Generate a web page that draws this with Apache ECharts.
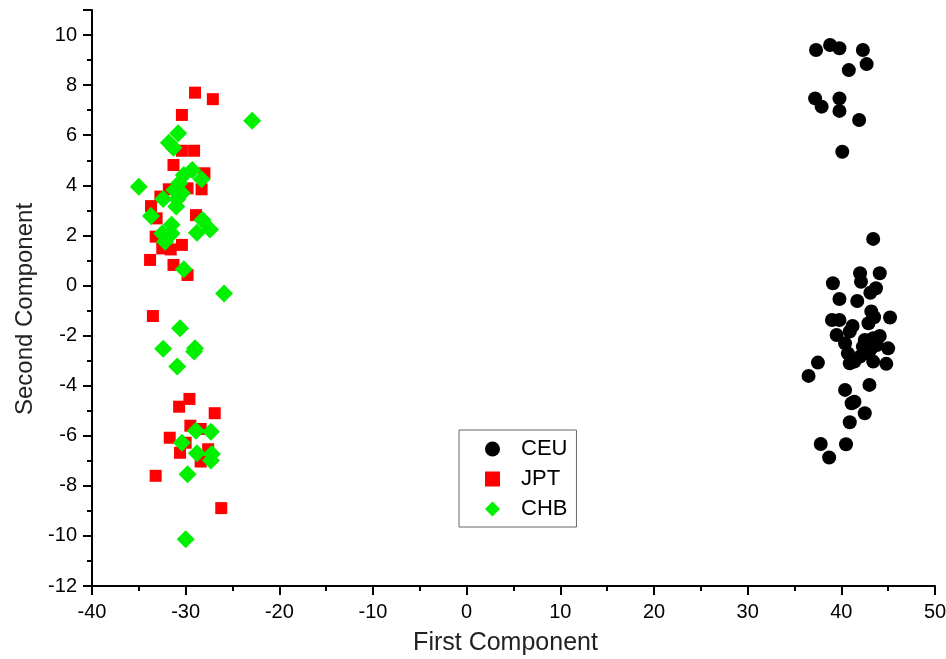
<!DOCTYPE html>
<html>
<head>
<meta charset="utf-8">
<script src="https://cdn.jsdelivr.net/npm/echarts@6/dist/echarts.min.js"></script>
<style>
  html, body { margin: 0; padding: 0; background: #fff; }
  #main { width: 946px; height: 659px; }
</style>
</head>
<body>
<div id="main"></div>
<script>
// points, [first, second]
const ceu = [
  [37.3, 9.40], [38.8, 9.60], [39.8, 9.47], [42.3, 9.40], [42.7, 8.84], [40.8, 8.60],
  [37.2, 7.47], [37.9, 7.14], [39.8, 7.47], [39.8, 6.97], [41.9, 6.61], [40.1, 5.34],
  [43.4, 1.86], [42.0, 0.49], [42.1, 0.15], [44.1, 0.49], [39.1, 0.09], [43.7, -0.11],
  [43.1, -0.29], [39.8, -0.54], [41.7, -0.62], [43.2, -1.04], [43.5, -1.27], [45.2, -1.28],
  [39.0, -1.38], [39.8, -1.38], [41.2, -1.62], [42.9, -1.51], [40.9, -1.84], [39.5, -1.98],
  [42.5, -2.18], [43.4, -2.11], [44.1, -2.02], [40.4, -2.31], [42.3, -2.44], [43.2, -2.51],
  [45.0, -2.51], [40.7, -2.71], [43.8, -2.38], [42.0, -2.84], [42.9, -2.71], [40.9, -3.11],
  [41.4, -3.04], [43.4, -3.04], [44.8, -3.13], [37.5, -3.08], [36.5, -3.61], [40.4, -4.17],
  [43.0, -3.97], [41.1, -4.70], [41.4, -4.64], [42.5, -5.10], [40.9, -5.46], [37.8, -6.33],
  [40.5, -6.34], [38.7, -6.87]
];
const jpt = [
  [-29.0, 7.70], [-27.1, 7.44], [-30.4, 6.81], [-30.4, 5.38], [-29.1, 5.38], [-31.3, 4.81],
  [-28.0, 4.48], [-28.3, 3.84], [-29.8, 3.88], [-31.8, 3.84], [-32.7, 3.55], [-33.7, 3.17],
  [-33.1, 2.68], [-28.9, 2.81], [-33.2, 1.95], [-32.5, 1.48], [-31.6, 1.44], [-30.4, 1.62],
  [-33.8, 1.02], [-31.3, 0.82], [-29.8, 0.42], [-33.5, -1.22], [-29.6, -4.53], [-30.7, -4.84],
  [-26.9, -5.10], [-29.5, -5.60], [-28.4, -5.73], [-31.7, -6.08], [-30.0, -6.28], [-30.6, -6.68],
  [-27.6, -6.54], [-28.4, -7.03], [-33.2, -7.60], [-26.2, -8.89]
];
const chb = [
  [-22.9, 6.58], [-30.8, 6.08], [-31.8, 5.70], [-31.3, 5.50], [-29.3, 4.61], [-28.3, 4.24],
  [-30.2, 4.41], [-35.0, 3.94], [-30.7, 4.08], [-31.2, 3.81], [-30.4, 3.68], [-32.4, 3.45],
  [-30.9, 3.44], [-31.0, 3.15], [-33.7, 2.77], [-28.2, 2.61], [-27.4, 2.24], [-28.8, 2.11],
  [-31.5, 2.42], [-32.5, 2.08], [-31.9, 1.95], [-32.2, 1.75], [-31.5, 2.08], [-30.2, 0.65],
  [-25.9, -0.32], [-30.6, -1.71], [-32.4, -2.53], [-29.0, -2.51], [-29.1, -2.64], [-30.9, -3.24],
  [-28.9, -5.80], [-27.3, -5.84], [-30.4, -6.28], [-28.8, -6.70], [-27.2, -6.73], [-27.3, -6.99],
  [-29.8, -7.54], [-30.0, -10.13]
];

const font = 'Liberation Sans, Arial, sans-serif';
const chart = echarts.init(document.getElementById('main'));

const axisCommon = {
  axisLine: { show: true, onZero: false, lineStyle: { color: '#000', width: 2 } },
  axisTick: { show: true, inside: false, length: 9, lineStyle: { color: '#000', width: 2 } },
  minorTick: { show: true, splitNumber: 2, length: 5, lineStyle: { color: '#000', width: 2 } },
  splitLine: { show: false },
  nameLocation: 'middle'
};

option = {
  animation: false,
  grid: { left: 92, right: 11, top: 10, bottom: 73, outerBoundsMode: 'none', containLabel: false },
  xAxis: Object.assign({}, axisCommon, {
    type: 'value', min: -40, max: 50, interval: 10,
    name: 'First Component', nameGap: 45,
    nameTextStyle: { fontFamily: font, fontSize: 25, color: '#222', padding: [0, 16, 0, 0] },
    axisLabel: { fontFamily: font, fontSize: 20, color: '#000', margin: 16 }
  }),
  yAxis: Object.assign({}, axisCommon, {
    type: 'value', min: -12, max: 11, interval: 2,
    name: 'Second Component', nameGap: 54,
    nameTextStyle: { fontFamily: font, fontSize: 24, color: '#222', padding: [0, 22, 0, 0] },
    axisLabel: {
      fontFamily: font, fontSize: 20, color: '#000', margin: 15,
      formatter: function (v) { return v > 10 ? '' : v; }
    }
  }),
  legend: {
    orient: 'vertical',
    left: 459, top: 430,
    itemWidth: 15, itemHeight: 15, itemGap: 8,
    padding: [8, 9, 7, 26],
    borderColor: '#666', borderWidth: 1,
    textStyle: { fontFamily: font, fontSize: 22, color: '#000', padding: [0, 0, 0, 16] },
    data: [
      { name: 'CEU', icon: 'circle' },
      { name: 'JPT', icon: 'rect' },
      { name: 'CHB', icon: 'diamond' }
    ]
  },
  series: [
    { name: 'CEU', type: 'scatter', data: ceu, symbol: 'circle', symbolSize: 14,
      itemStyle: { color: '#000', opacity: 1 } },
    { name: 'JPT', type: 'scatter', data: jpt, symbol: 'rect', symbolSize: 12,
      itemStyle: { color: '#ff0000', opacity: 1 } },
    { name: 'CHB', type: 'scatter', data: chb, symbol: 'diamond', symbolSize: 18,
      itemStyle: { color: '#00f000', opacity: 1 } }
  ]
};

chart.setOption(option);
</script>
</body>
</html>
